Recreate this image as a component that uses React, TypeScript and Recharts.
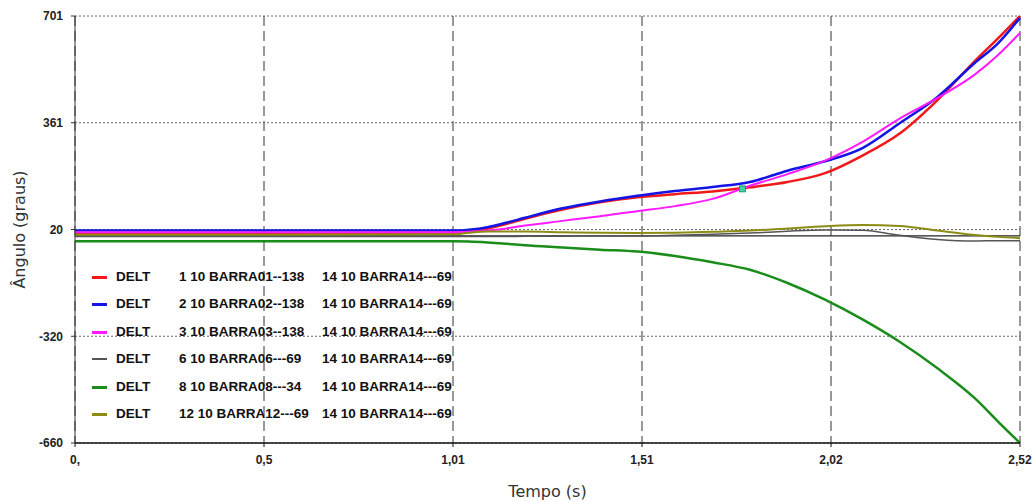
import { LineChart, Line, XAxis, YAxis, CartesianGrid, ReferenceLine, ReferenceDot } from 'recharts';

// time samples (s)
const tempo = [0, 0.5, 1.01, 1.05, 1.1, 1.15, 1.2, 1.3, 1.4, 1.5, 1.6, 1.7, 1.8, 1.9, 2.0, 2.1, 2.2, 2.3, 2.4, 2.46, 2.52];

// angles (graus) per bus
const barra01 = [8, 8, 9, 14, 24, 38, 55, 84, 107, 123, 133, 142, 155, 172, 200, 256, 327, 433, 558, 628, 701];
const barra02 = [17, 17, 17, 20, 28, 42, 58, 88, 110, 128, 143, 156, 172, 208, 238, 280, 360, 443, 552, 612, 695];
const barra03 = [12, 12, 12, 13, 17, 24, 33, 48, 63, 79, 95, 118, 160, 197, 240, 300, 375, 440, 515, 575, 647];
const barra06 = [-2, -2, -2, -2, -2, -2, -1, -1, 0, 0, 2, 5, 9, 15, 19, 18, 2, -11, -16, -15, -15];
const barra08 = [-17, -17, -17, -18, -21, -25, -30, -37, -44, -50, -64, -84, -108, -150, -203, -266, -338, -422, -518, -590, -660];
const barra12 = [4, 4, 5, 10, 14, 14, 14, 12, 10, 9, 10, 13, 17, 24, 31, 35, 32, 17, 3, -3, -7];

const xTicks = [0, 0.504, 1.008, 1.512, 2.016, 2.52];
const xTickLabels = ['0,', '0,5', '1,01', '1,51', '2,02', '2,52'];
const yTicks = [-660, -319.75, 20.5, 360.75, 701];
const yTickLabels = ['-660', '-320', '20', '361', '701'];

const series = [
  { key: 'b01', bus: '1 10 BARRA01--138', ref: '14 10 BARRA14---69', color: '#f01818', width: 2.5, values: barra01 },
  { key: 'b02', bus: '2 10 BARRA02--138', ref: '14 10 BARRA14---69', color: '#1414e6', width: 2.5, values: barra02 },
  { key: 'b03', bus: '3 10 BARRA03--138', ref: '14 10 BARRA14---69', color: '#ff1aff', width: 2, values: barra03 },
  { key: 'b06', bus: '6 10 BARRA06---69', ref: '14 10 BARRA14---69', color: '#555555', width: 1.5, values: barra06 },
  { key: 'b08', bus: '8 10 BARRA08---34', ref: '14 10 BARRA14---69', color: '#1a8c1a', width: 2.5, values: barra08 },
  { key: 'b12', bus: '12 10 BARRA12---69', ref: '14 10 BARRA14---69', color: '#8c8c14', width: 2, values: barra12 },
];

const data = tempo.map((t, i) => {
  const row: Record<string, number> = { t };
  series.forEach((s) => { row[s.key] = s.values[i]; });
  return row;
});

const tickFont = { fontFamily: '"Liberation Sans", Arial, sans-serif', fontSize: 12, fontWeight: 'bold', fill: '#222' };
const titleFont = { fontFamily: '"DejaVu Sans", sans-serif', fontSize: 16, fill: '#333' };

const LegendBox = () => (
  <div style={{ position: 'absolute', left: 88, top: 263, width: 400, fontFamily: '"Liberation Sans", Arial, sans-serif', fontSize: 13.5, fontWeight: 'bold', color: '#111', pointerEvents: 'none' }}>
    {series.map((s) => (
      <div key={s.key} style={{ position: 'relative', height: 27.4 }}>
        <span style={{ position: 'absolute', left: 4, top: 13, width: 15, height: s.width > 1.5 ? 3 : 1.5, background: s.color }} />
        <span style={{ position: 'absolute', left: 28, top: 6 }}>DELT</span>
        <span style={{ position: 'absolute', left: 91, top: 6 }}>{s.bus}</span>
        <span style={{ position: 'absolute', left: 234, top: 6 }}>{s.ref}</span>
      </div>
    ))}
  </div>
);

const App = () => {
  return (
    <div style={{ position: 'absolute', left: 0, top: 0, width: 1034, height: 502, background: '#fff' }}>
      <LineChart width={1034} height={502} data={data} margin={{ top: 16, right: 14, bottom: 0, left: 0 }}>
        <CartesianGrid horizontal={false} stroke="#333" strokeDasharray="10 5" />
        <CartesianGrid vertical={false} stroke="#666" strokeDasharray="2 2" />
        <XAxis
          dataKey="t"
          type="number"
          domain={[0, 2.52]}
          ticks={xTicks}
          tickFormatter={(v, i) => xTickLabels[i]}
          tick={tickFont}
          tickSize={4}
          tickMargin={8}
          height={59}
          stroke="#111"
          axisLine={{ stroke: '#111', strokeWidth: 1.5 }}
          label={{ value: 'Tempo (s)', position: 'insideBottom', offset: 5, style: titleFont }}
        />
        <YAxis
          type="number"
          domain={[-660, 701]}
          ticks={yTicks}
          tickFormatter={(v, i) => yTickLabels[i]}
          tick={tickFont}
          tickSize={4}
          tickMargin={8}
          width={75}
          stroke="#333"
          label={{ value: 'Ângulo (graus)', angle: -90, position: 'insideLeft', offset: 19, style: { ...titleFont, textAnchor: 'middle' } }}
        />
        <ReferenceLine y={0} stroke="#222" strokeWidth={1.2} />
        {series.map((s) => (
          <Line
            key={s.key}
            type="monotone"
            dataKey={s.key}
            stroke={s.color}
            strokeWidth={s.width}
            dot={false}
            activeDot={false}
            isAnimationActive={false}
          />
        ))}
        <ReferenceDot
          x={1.78}
          y={150}
          shape={(p: any) => <rect x={p.cx - 3} y={p.cy - 3} width={6} height={6} fill="#3ad6a0" stroke="#128a60" strokeWidth={0.8} />}
        />
      </LineChart>
      <LegendBox />
    </div>
  );
};

export default App;
